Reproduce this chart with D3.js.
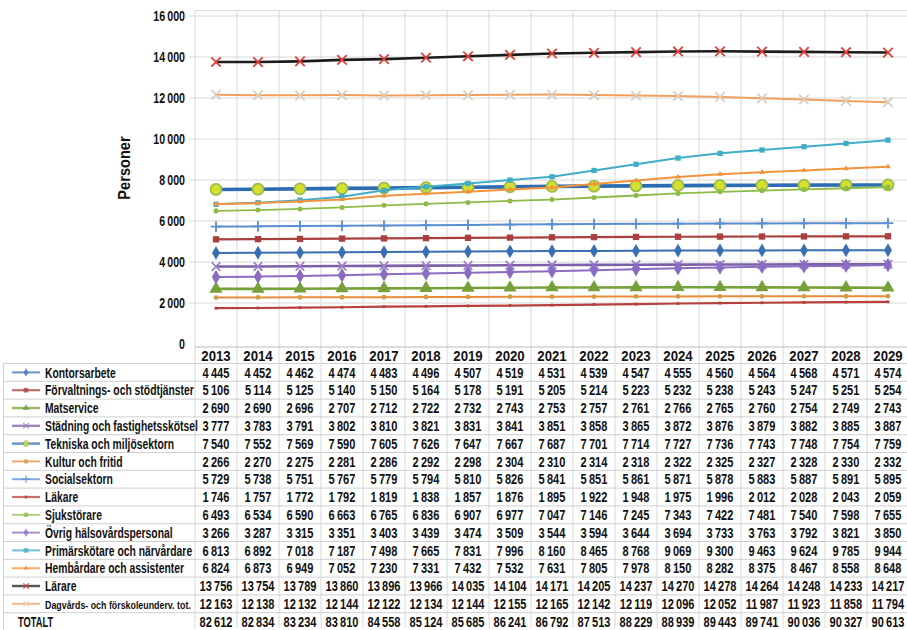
<!DOCTYPE html>
<html>
<head>
<meta charset="utf-8">
<script src="https://cdn.jsdelivr.net/npm/d3@7"></script>
<style>
  html, body { margin: 0; padding: 0; background: #fff; }
  svg text { font-family: "Liberation Sans", Arial, sans-serif; font-weight: bold; fill: #111; }
</style>
</head>
<body>
<svg id="chart" width="907" height="630"></svg>
<script>
// years on the x axis
const years = [2013, 2014, 2015, 2016, 2017, 2018, 2019, 2020, 2021, 2022, 2023, 2024, 2025, 2026, 2027, 2028, 2029];

// series values (persons)
const kontorsarbete = [4445, 4452, 4462, 4474, 4483, 4496, 4507, 4519, 4531, 4539, 4547, 4555, 4560, 4564, 4568, 4571, 4574];
const forvaltning = [5106, 5114, 5125, 5140, 5150, 5164, 5178, 5191, 5205, 5214, 5223, 5232, 5238, 5243, 5247, 5251, 5254];
const matservice = [2690, 2690, 2696, 2707, 2712, 2722, 2732, 2743, 2753, 2757, 2761, 2766, 2765, 2760, 2754, 2749, 2743];
const stadning = [3777, 3783, 3791, 3802, 3810, 3821, 3831, 3841, 3851, 3858, 3865, 3872, 3876, 3879, 3882, 3885, 3887];
const tekniska = [7540, 7552, 7569, 7590, 7605, 7626, 7647, 7667, 7687, 7701, 7714, 7727, 7736, 7743, 7748, 7754, 7759];
const kultur = [2266, 2270, 2275, 2281, 2286, 2292, 2298, 2304, 2310, 2314, 2318, 2322, 2325, 2327, 2328, 2330, 2332];
const socialsektorn = [5729, 5738, 5751, 5767, 5779, 5794, 5810, 5826, 5841, 5851, 5861, 5871, 5878, 5883, 5887, 5891, 5895];
const lakare = [1746, 1757, 1772, 1792, 1819, 1838, 1857, 1876, 1895, 1922, 1948, 1975, 1996, 2012, 2028, 2043, 2059];
const sjukskotare = [6493, 6534, 6590, 6663, 6765, 6836, 6907, 6977, 7047, 7146, 7245, 7343, 7422, 7481, 7540, 7598, 7655];
const ovrigHalso = [3266, 3287, 3315, 3351, 3403, 3439, 3474, 3509, 3544, 3594, 3644, 3694, 3733, 3763, 3792, 3821, 3850];
const primarskotare = [6813, 6892, 7018, 7187, 7498, 7665, 7831, 7996, 8160, 8465, 8768, 9069, 9300, 9463, 9624, 9785, 9944];
const hemvardare = [6824, 6873, 6949, 7052, 7230, 7331, 7432, 7532, 7631, 7805, 7978, 8150, 8282, 8375, 8467, 8558, 8648];
const larare = [13756, 13754, 13789, 13860, 13896, 13966, 14035, 14104, 14171, 14205, 14237, 14270, 14278, 14264, 14248, 14233, 14217];
const dagvard = [12163, 12138, 12132, 12144, 12122, 12134, 12144, 12155, 12165, 12142, 12119, 12096, 12052, 11987, 11923, 11858, 11794];
const totalt = [82612, 82834, 83234, 83810, 84558, 85124, 85685, 86241, 86792, 87513, 88229, 88939, 89443, 89741, 90036, 90327, 90613];

const seriesNames = [
  "Kontorsarbete", "Förvaltnings- och stödtjänster", "Matservice", "Städning och fastighetsskötsel",
  "Tekniska och miljösektorn", "Kultur och fritid", "Socialsektorn", "Läkare", "Sjukstörare",
  "Övrig hälsovårdspersonal", "Primärskötare och närvårdare", "Hembårdare och assistenter",
  "Lärare", "Dagvårds- och förskoleunderv. tot."
];
const seriesValues = [kontorsarbete, forvaltning, matservice, stadning, tekniska, kultur, socialsektorn,
  lakare, sjukskotare, ovrigHalso, primarskotare, hemvardare, larare, dagvard];
const yTicks = [0, 2000, 4000, 6000, 8000, 10000, 12000, 14000, 16000];

// line / marker look per series
const styles = [
  { color: "#3b6fb4", width: 2, sym: d3.symbolDiamond, size: 55, fill: "#3b6fb4" },
  { color: "#a9403d", width: 2.2, sym: d3.symbolSquare, size: 40, fill: "#a9403d" },
  { color: "#76a03a", width: 2.6, sym: d3.symbolTriangle, size: 75, fill: "#76a03a" },
  { color: "#7d5fa8", width: 2.6, sym: d3.symbolTimes, size: 50, stroke: "#9c80c8" },
  { color: "#2e6db3", width: 3.6, sym: d3.symbolCircle, size: 95, fill: "#d5e02c", stroke: "#9cbb4e" },
  { color: "#ec8a3c", width: 2, sym: d3.symbolCircle, size: 18, fill: "#c9a040" },
  { color: "#5a8ed0", width: 2, sym: d3.symbolPlus, size: 40, stroke: "#5a8ed0" },
  { color: "#b8403c", width: 2.2, sym: d3.symbolSquare, size: 8, fill: "#b8403c" },
  { color: "#8dbb48", width: 1.8, sym: d3.symbolCircle, size: 20, fill: "#8dbb48" },
  { color: "#8a6cc2", width: 2, sym: d3.symbolDiamond, size: 60, fill: "#8a6cc2" },
  { color: "#40adc8", width: 2, sym: d3.symbolSquare, size: 28, fill: "#40adc8" },
  { color: "#f2943e", width: 2, sym: d3.symbolTriangle, size: 14, fill: "#f2943e" },
  { color: "#1c1c1c", width: 2.6, sym: d3.symbolTimes, size: 60, stroke: "#e0403a" },
  { color: "#f0a05e", width: 2, sym: d3.symbolTimes, size: 60, stroke: "#d9cfc0" }
];

const fmt = v => d3.format(",")(v).replace(/,/g, "\u2009");

// text squeezed sideways to mimic the condensed font of the original
function label(parent, x, y, str, size, sx, anchor) {
  return parent.append("text")
    .attr("transform", `translate(${x},${y}) scale(${sx},1)`)
    .attr("text-anchor", anchor || "start")
    .style("font-size", size + "px")
    .text(str);
}

const svg = d3.select("#chart");
const x = d3.scaleBand().domain(years).range([195, 909]);
const y = d3.scaleLinear().domain([0, 16000]).range([344, 16]);
const cx = d => x(d) + x.bandwidth() / 2;

// grid
const grid = svg.append("g").attr("stroke", "#d8d8d8").attr("stroke-width", 1);
grid.selectAll("line.h").data(yTicks.slice(1)).join("line")
  .attr("x1", 189).attr("x2", 907).attr("y1", d => y(d)).attr("y2", d => y(d));
grid.append("line").attr("x1", 195).attr("x2", 907).attr("y1", 10.5).attr("y2", 10.5);
grid.selectAll("line.v").data(years).join("line")
  .attr("x1", d => x(d)).attr("x2", d => x(d)).attr("y1", 10).attr("y2", 628);

// y axis labels
const yl = svg.append("g");
yTicks.forEach(t => label(yl, 185, y(t) + 5, fmt(t), 14, 0.76, "end"));
svg.append("text").attr("transform", "translate(130,168) rotate(-90) scale(0.86,1)")
  .attr("text-anchor", "middle").style("font-size", "17px").text("Personer");

// lines + markers
const line = d3.line().x((d, i) => cx(years[i])).y(d => y(d));
const series = svg.append("g");
seriesValues.forEach((vals, s) => {
  const st = styles[s];
  const g = series.append("g");
  g.append("path").datum(vals).attr("d", line).attr("fill", "none")
    .attr("stroke", st.color).attr("stroke-width", st.width).attr("stroke-linejoin", "round");
  g.selectAll("path.m").data(vals).join("path")
    .attr("transform", (d, i) => `translate(${cx(years[i])},${y(d)})`)
    .attr("d", d3.symbol(st.sym, st.size))
    .attr("fill", st.fill || "none")
    .attr("stroke", st.stroke || "none")
    .attr("stroke-width", st.stroke ? 1.8 : 0);
});

// data table
const rowTop = 347, headH = 16.5, rowH = 17.8;
const rowY = i => rowTop + headH + rowH * i;
const table = svg.append("g");
const tl = table.append("g").attr("stroke", "#cfcfcf").attr("stroke-width", 1);
d3.range(16).forEach(i => {
  tl.append("line").attr("x1", 3).attr("x2", 907).attr("y1", rowY(i)).attr("y2", rowY(i));
});
tl.append("line").attr("x1", 3.5).attr("x2", 3.5).attr("y1", rowY(0)).attr("y2", rowY(15));
tl.append("line").attr("x1", 195).attr("x2", 907).attr("y1", rowTop).attr("y2", rowTop).attr("stroke", "#bbb");

years.forEach(d => label(table, cx(d), rowTop + 14, d, 15, 0.88, "middle"));

const rows = seriesValues.map((v, i) => ({ name: seriesNames[i], vals: v, st: styles[i] }))
  .concat([{ name: "TOTALT", vals: totalt, st: null }]);

rows.forEach((r, i) => {
  const mid = rowY(i) + rowH / 2;
  const base = mid + 5.2;
  if (r.st) {
    table.append("line").attr("x1", 12).attr("x2", 40).attr("y1", mid).attr("y2", mid)
      .attr("stroke", r.st.color).attr("stroke-width", Math.min(r.st.width, 2.4)).attr("opacity", 0.75);
    table.append("path").attr("transform", `translate(26,${mid})`)
      .attr("d", d3.symbol(r.st.sym, Math.min(r.st.size, 22)))
      .attr("fill", r.st.fill || "none").attr("stroke", r.st.stroke || "none")
      .attr("stroke-width", r.st.stroke ? 1.3 : 0).attr("opacity", 0.75);
    if (i === 13) label(table, 45, base - 0.5, r.name, 11.5, 0.77);
    else label(table, 45, base, r.name, 15, 0.69);
  } else {
    label(table, 18, base, r.name, 15, 0.62);
  }
  r.vals.forEach((v, k) => label(table, cx(years[k]), base, fmt(v), 14, 0.79, "middle"));
});
</script>
</body>
</html>
